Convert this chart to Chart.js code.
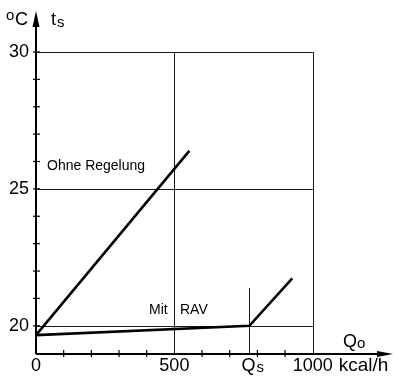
<!DOCTYPE html>
<html>
<head>
<meta charset="utf-8">
<script src="https://cdn.jsdelivr.net/npm/chart.js@4"></script>
<style>
    html, body { margin: 0; padding: 0; background: #ffffff; }
    #chartBox { position: relative; width: 394px; height: 376px; }
</style>
</head>
<body>
<div id="chartBox"><canvas id="tempChart" width="394" height="376"></canvas></div>
<script>
// Data
var ohneRegelungX = [0, 554];
var ohneRegelungY = [19.66, 26.39];
var mitRavX       = [0, 771, 926];
var mitRavY       = [19.66, 20.0, 21.73];

// Grid / reference lines
var gridYValues   = [20, 25, 30];
var gridXValues   = [500, 1000];
var qsValue       = 771;
var qsLineTop     = 21.38;

// Tick labels
var yTickLabels   = [20, 25, 30];
var yMinorTicks   = [21, 22, 23, 24, 26, 27, 28, 29];
var xMinorTicks   = [100, 200, 300, 400, 600, 700, 800, 900];
var xTickValues   = [0, 500, 1000];
var xTickLabels   = ["0", "500", "1000"];
var xUnitLabel    = "kcal/h";

var FONT = "'Liberation Sans', Arial, sans-serif";

function toPoints(xs, ys)
{
    var points = [];
    for (var i = 0; i < xs.length; i++)
    {
        points.push({x: xs[i], y: ys[i]});
    }
    return points;
}

// Draws axes, arrows, grid, ticks and every label through the chart scales
var drawingPlugin = {
    id: "technicalDrawing",
    beforeDatasetsDraw: function (chart)
    {
        var ctx = chart.ctx;
        var xs  = chart.scales.x;
        var ys  = chart.scales.y;
        var x0  = xs.getPixelForValue(0);
        var yB  = ys.getPixelForValue(ys.min);

        ctx.save();
        ctx.strokeStyle = "#1a1a1a";
        ctx.lineWidth   = 1;

        // Horizontal grid lines
        gridYValues.forEach(function (v)
        {
            var py = Math.round(ys.getPixelForValue(v)) + 0.5;
            ctx.beginPath();
            ctx.moveTo(x0, py);
            ctx.lineTo(xs.getPixelForValue(1000), py);
            ctx.stroke();
        });

        // Vertical grid lines
        gridXValues.forEach(function (v)
        {
            var px = Math.round(xs.getPixelForValue(v)) + 0.5;
            ctx.beginPath();
            ctx.moveTo(px, ys.getPixelForValue(30));
            ctx.lineTo(px, yB);
            ctx.stroke();
        });

        // Qs marker line
        var qx = Math.round(xs.getPixelForValue(qsValue)) + 0.5;
        ctx.beginPath();
        ctx.moveTo(qx, ys.getPixelForValue(qsLineTop));
        ctx.lineTo(qx, yB);
        ctx.stroke();

        // Axes
        ctx.strokeStyle = "#000000";
        ctx.lineWidth   = 2;
        ctx.beginPath();
        ctx.moveTo(x0, yB);
        ctx.lineTo(x0, ys.getPixelForValue(ys.max) + 8);
        ctx.moveTo(x0, yB);
        ctx.lineTo(xs.getPixelForValue(xs.max) - 8, yB);
        ctx.stroke();

        // Arrow heads
        ctx.fillStyle = "#000000";
        var yTop = ys.getPixelForValue(ys.max);
        ctx.beginPath();
        ctx.moveTo(x0, yTop - 1);
        ctx.lineTo(x0 - 3.5, yTop + 15);
        ctx.lineTo(x0 + 3.5, yTop + 15);
        ctx.closePath();
        ctx.fill();

        var xRight = xs.getPixelForValue(xs.max);
        ctx.beginPath();
        ctx.moveTo(xRight, yB);
        ctx.lineTo(xRight - 16, yB - 3);
        ctx.lineTo(xRight - 16, yB + 3);
        ctx.closePath();
        ctx.fill();

        // Minor ticks
        ctx.lineWidth = 1.2;
        yMinorTicks.concat(yTickLabels).forEach(function (v)
        {
            var py = ys.getPixelForValue(v);
            ctx.beginPath();
            ctx.moveTo(x0 - 3, py);
            ctx.lineTo(x0 + 4, py);
            ctx.stroke();
        });
        xMinorTicks.forEach(function (v)
        {
            var px = xs.getPixelForValue(v);
            ctx.beginPath();
            ctx.moveTo(px, yB - 4);
            ctx.lineTo(px, yB + 3);
            ctx.stroke();
        });

        // Y tick labels
        ctx.font         = "18px " + FONT;
        ctx.textAlign    = "right";
        ctx.textBaseline = "middle";
        yTickLabels.forEach(function (v)
        {
            ctx.fillText(String(v), x0 - 7, ys.getPixelForValue(v));
        });

        // X tick labels
        ctx.textBaseline = "alphabetic";
        ctx.textAlign    = "center";
        xTickValues.forEach(function (v, i)
        {
            ctx.fillText(xTickLabels[i], xs.getPixelForValue(v), 371);
        });
        ctx.textAlign = "left";
        ctx.font      = "19px " + FONT;
        ctx.fillText(xUnitLabel, xs.getPixelForValue(1000) + 26, 371);

        // Qs label
        ctx.font      = "18px " + FONT;
        ctx.fillText("Q", qx - 8, 371);
        ctx.font      = "15px " + FONT;
        ctx.fillText("s", qx + 7, 372);

        // Axis titles
        ctx.font = "15px " + FONT;
        ctx.fillText("o", 6, 20);
        ctx.font = "18px " + FONT;
        ctx.fillText("C", 15, 25);
        ctx.fillText("t", 51, 25);
        ctx.font = "15px " + FONT;
        ctx.fillText("s", 57, 27);

        ctx.font = "18px " + FONT;
        ctx.fillText("Q", 343, 347);
        ctx.font = "15px " + FONT;
        ctx.fillText("o", 357, 348);

        // Curve labels
        ctx.font = "14px " + FONT;
        ctx.fillText("Ohne Regelung", 47, 170);
        ctx.fillText("Mit", 149, 314);
        ctx.fillText("RAV", 180, 314);

        ctx.restore();
    }
};

new Chart(document.getElementById("tempChart"), {
    type:    "line",
    data:    {
        datasets: [
            {
                label:       "Ohne Regelung",
                data:        toPoints(ohneRegelungX, ohneRegelungY),
                borderColor: "#000000",
                borderWidth: 2.6,
                pointRadius: 0,
                tension:     0,
                clip:        false
            },
            {
                label:       "Mit RAV",
                data:        toPoints(mitRavX, mitRavY),
                borderColor: "#000000",
                borderWidth: 2.6,
                pointRadius: 0,
                tension:     0,
                clip:        false
            }
        ]
    },
    plugins: [drawingPlugin],
    options: {
        responsive: false,
        animation:  false,
        layout:     {
            padding: {left: 36, right: 1, top: 12, bottom: 22}
        },
        plugins:    {
            legend:  {display: false},
            tooltip: {enabled: false}
        },
        scales:     {
            x: {type: "linear", min: 0, max: 1290, display: false},
            y: {type: "linear", min: 18.97, max: 31.46, display: false}
        }
    }
});
</script>
</body>
</html>
